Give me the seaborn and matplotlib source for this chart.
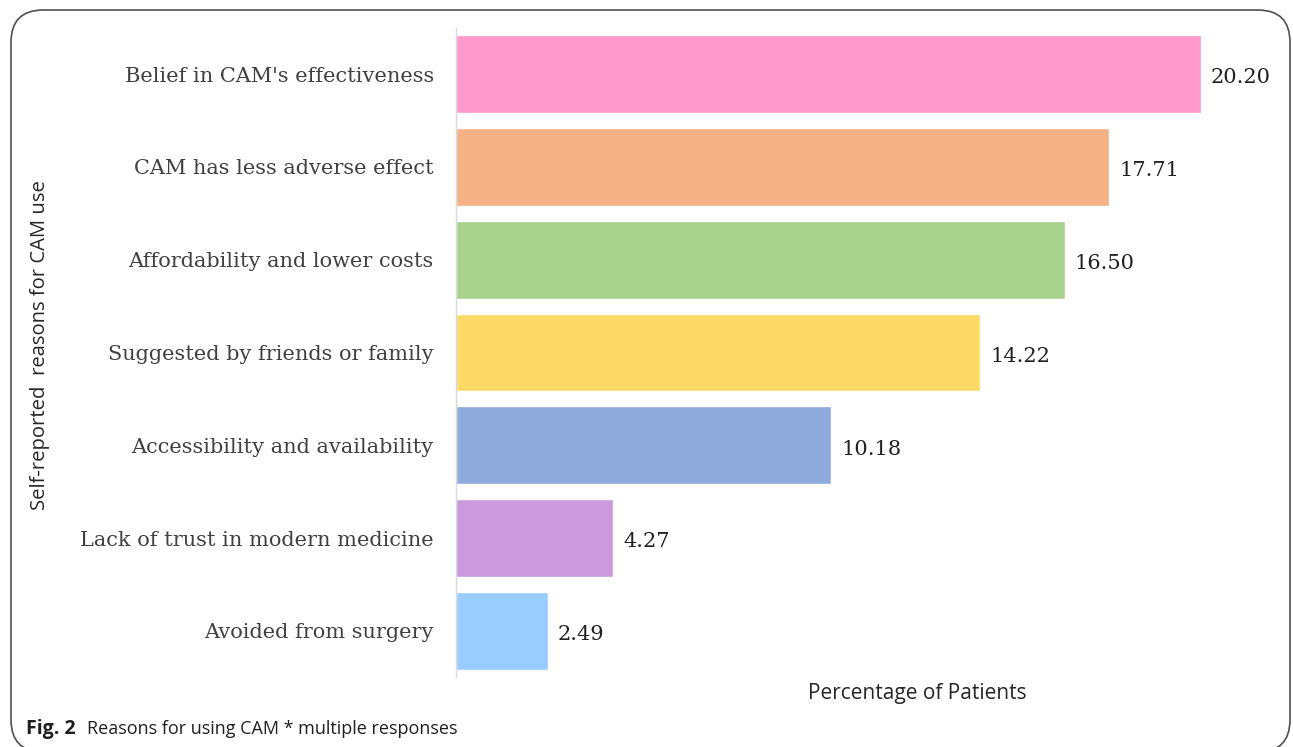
import matplotlib
matplotlib.use("Agg")
import matplotlib.pyplot as plt
import seaborn as sns
import pandas as pd
from matplotlib.patches import FancyBboxPatch

categories = [
    "Belief in CAM's effectiveness",
    "CAM has less adverse effect",
    "Affordability and lower costs",
    "Suggested by friends or family",
    "Accessibility and availability",
    "Lack of trust in modern medicine",
    "Avoided from surgery",
]
values = [20.20, 17.71, 16.50, 14.22, 10.18, 4.27, 2.49]
colors = ["#FF99CC", "#F4B183", "#A9D18E", "#FFD966", "#8FAADC", "#CC99DD", "#99CCFF"]

sns.set_theme(style="white")
plt.rcParams['font.family'] = ['DejaVu Sans']

df = pd.DataFrame({"reason": categories, "pct": values})

fig = plt.figure(figsize=(12.93, 7.47), dpi=100)
ax = fig.add_axes([456/1293, 1-677.4/747, (1280-456)/1293, (677.4-27.6)/747])

sns.barplot(data=df, y="reason", x="pct", hue="reason", palette=colors,
            order=categories, hue_order=categories, legend=False,
            width=0.84, saturation=1, ax=ax, orient="h")

ax.set_xlim(0, (1280-456)/36.88)
ax.set_ylim(6.5, -0.5)

for i, v in enumerate(values):
    ax.text(v + 0.27, i + 0.04, f"{v:.2f}", va="center", ha="left",
            fontsize=15, family="DejaVu Serif", color="#202020")

ax.set_yticks(range(len(categories)))
ax.set_yticklabels(categories, fontsize=15, family="DejaVu Serif", color="#404040")
ax.tick_params(axis="y", length=0, pad=16)
ax.set_xticks([])
ax.set_xlabel("")
ax.set_ylabel("")
for s in ["top", "right", "bottom"]:
    ax.spines[s].set_visible(False)
ax.spines["left"].set_color("#D9D9D9")
ax.spines["left"].set_linewidth(1)

fig.text(917/1293, 1-693/747, "Percentage of Patients", ha="center", va="center",
         fontsize=15, family="Open Sans", color="#262626")
fig.text(40/1293, 1-345/747, "Self-reported  reasons for CAM use", ha="center", va="center",
         rotation=90, fontsize=14.6, family="Open Sans", color="#262626")

fig.text(26/1293, 1-729/747, "Fig. 2", ha="left", va="center",
         fontsize=14, family="Open Sans", fontweight="bold", color="#202020")
fig.text(87/1293, 1-729/747, "Reasons for using CAM * multiple responses", ha="left", va="center",
         fontsize=13, family="Open Sans", color="#202020")

box = FancyBboxPatch((11/1293, 1-752/747), (1290-11)/1293, (752-10)/747,
                     boxstyle="round,pad=0,rounding_size=0.025",
                     transform=fig.transFigure, fill=False, edgecolor="#505050",
                     linewidth=1.2, mutation_aspect=1293/747)
fig.add_artist(box)

fig.savefig("out.png", dpi=100)
